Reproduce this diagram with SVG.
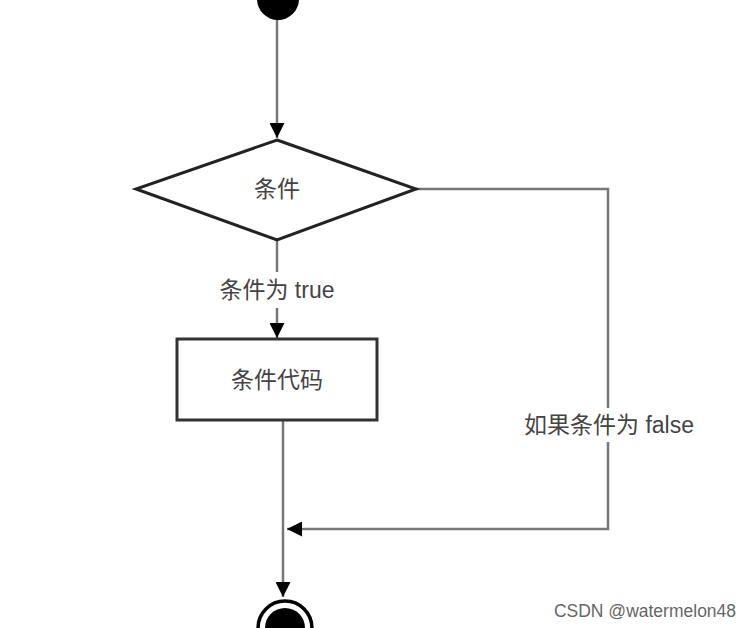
<svg xmlns="http://www.w3.org/2000/svg" width="750" height="628" viewBox="0 0 750 628">
<style>
.c{fill:none;stroke:#777;stroke-width:2.5}
.t{font-family:"Liberation Sans","Noto Sans CJK SC",sans-serif;font-size:23px;fill:#444;text-anchor:middle;dominant-baseline:central}
</style>
<defs>
<marker id="a" markerWidth="15" markerHeight="15" refX="15" refY="7.5" orient="auto" markerUnits="userSpaceOnUse"><path d="M0,0 L15,7.5 L0,15 Z" fill="#000"/></marker>
</defs>
<rect width="750" height="628" fill="#fff"/>
<g id="connectors">
<line class="c" x1="277" y1="20" x2="277" y2="138" marker-end="url(#a)"/>
<line class="c" x1="277" y1="240" x2="277" y2="272"/>
<line class="c" x1="277" y1="308" x2="277" y2="338" marker-end="url(#a)"/>
<line class="c" x1="283" y1="420" x2="283" y2="597" marker-end="url(#a)"/>
<polyline class="c" points="416,189 608,189 608,408"/>
<polyline class="c" points="608,442 608,529 287,529" marker-end="url(#a)"/>
<text class="t" x="277" y="290">条件为 true</text>
<text class="t" x="609" y="425">如果条件为 false</text>
</g>
<g id="start"><circle cx="278" cy="-1" r="21" fill="#000"/></g>
<g id="cond"><polygon points="277,140 416,189 277,240 136,189" fill="#fff" stroke="#222" stroke-width="3"/><text class="t" x="277" y="189">条件</text></g>
<g id="code"><rect x="177" y="339" width="200" height="81" fill="#fff" stroke="#333" stroke-width="3"/><text class="t" x="277" y="380">条件代码</text></g>
<g id="end"><circle cx="285" cy="628" r="27" fill="#fff" stroke="#000" stroke-width="3.5"/><circle cx="285" cy="628" r="20" fill="#000"/></g>
<text x="645" y="611" font-family="Liberation Sans,sans-serif" font-size="17.5" fill="#666" text-anchor="middle" dominant-baseline="central">CSDN @watermelon48</text>
</svg>
